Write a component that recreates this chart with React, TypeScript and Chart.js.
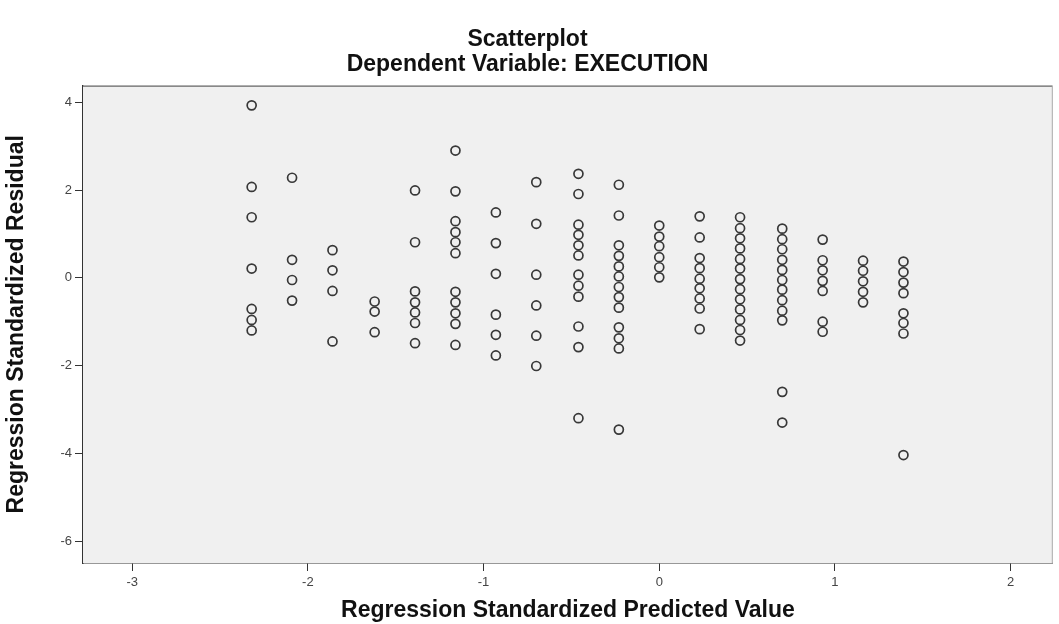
import React, { useEffect, useRef } from "react";
import { Chart, registerables } from "chart.js";

Chart.register(...registerables);

const chartTitle = "Scatterplot";
const chartSubtitle = "Dependent Variable: EXECUTION";
const xAxisTitle = "Regression Standardized Predicted Value";
const yAxisTitle = "Regression Standardized Residual";

const xTickValues = [-3, -2, -1, 0, 1, 2];
const yTickValues = [4, 2, 0, -2, -4, -6];

// Regression standardized predicted value of each column of points
const predicted = [-2.32, -2.09, -1.86, -1.62, -1.39, -1.16, -0.93, -0.7, -0.46, -0.23, 0.0, 0.23, 0.46, 0.7, 0.93, 1.16, 1.39];

// Standardized residuals in each column
const col01 = [3.93, 2.07, 1.38, 0.21, -0.71, -0.96, -1.2];
const col02 = [2.28, 0.41, -0.05, -0.52];
const col03 = [0.63, 0.17, -0.3, -1.45];
const col04 = [-0.54, -0.77, -1.24];
const col05 = [1.99, 0.81, -0.31, -0.56, -0.79, -1.03, -1.49];
const col06 = [2.9, 1.97, 1.29, 1.04, 0.81, 0.56, -0.32, -0.56, -0.81, -1.05, -1.53];
const col07 = [1.49, 0.79, 0.09, -0.84, -1.3, -1.77];
const col08 = [2.18, 1.23, 0.07, -0.63, -1.32, -2.01];
const col09 = [2.37, 1.91, 1.21, 0.98, 0.74, 0.51, 0.07, -0.18, -0.43, -1.11, -1.58, -3.2];
const col10 = [2.12, 1.42, 0.74, 0.5, 0.26, 0.03, -0.21, -0.44, -0.68, -1.13, -1.38, -1.61, -3.46];
const col11 = [1.19, 0.94, 0.72, 0.47, 0.24, 0.01];
const col12 = [1.4, 0.92, 0.45, 0.22, -0.02, -0.24, -0.47, -0.7, -1.17];
const col13 = [1.38, 1.13, 0.9, 0.67, 0.43, 0.21, -0.03, -0.26, -0.49, -0.72, -0.96, -1.19, -1.43];
const col14 = [1.12, 0.88, 0.65, 0.41, 0.18, -0.05, -0.27, -0.51, -0.75, -0.97, -2.6, -3.3];
const col15 = [0.87, 0.4, 0.17, -0.07, -0.3, -1.0, -1.23];
const col16 = [0.39, 0.16, -0.08, -0.32, -0.56];
const col17 = [0.37, 0.13, -0.11, -0.35, -0.81, -1.03, -1.27, -4.04];

const residualColumns = [col01, col02, col03, col04, col05, col06, col07, col08, col09, col10, col11, col12, col13, col14, col15, col16, col17];

const FONT = "'Liberation Sans', Arial, Helvetica, sans-serif";
const PLOT_BG = "#f0f0f0";
const TITLE_FONT = { family: FONT, size: 23, weight: "bold" as const, lineHeight: 1.1 };

const plotFrame = {
  id: "plotFrame",
  beforeDatasetsDraw(chart: any) {
    const { ctx, chartArea } = chart;
    ctx.save();
    ctx.fillStyle = PLOT_BG;
    ctx.fillRect(chartArea.left, chartArea.top, chartArea.right - chartArea.left, chartArea.bottom - chartArea.top);
    ctx.strokeStyle = "#666";
    ctx.lineWidth = 1.2;
    ctx.beginPath();
    ctx.moveTo(chartArea.left, chartArea.top + 0.5);
    ctx.lineTo(chartArea.right - 0.5, chartArea.top + 0.5);
    ctx.stroke();
    ctx.strokeStyle = "#aaa";
    ctx.lineWidth = 1;
    ctx.beginPath();
    ctx.moveTo(chartArea.right - 0.5, chartArea.top);
    ctx.lineTo(chartArea.right - 0.5, chartArea.bottom);
    ctx.stroke();
    ctx.restore();
  },
};

export default function App() {
  const canvasRef = useRef<HTMLCanvasElement | null>(null);

  useEffect(() => {
    document.body.style.margin = "0";
    const canvas = canvasRef.current;
    if (!canvas) return;
    const points: { x: number; y: number }[] = [];
    residualColumns.forEach((col, i) => {
      col.forEach((r) => points.push({ x: predicted[i], y: r }));
    });

    const chart = new Chart(canvas, {
      type: "scatter",
      data: {
        datasets: [
          {
            data: points,
            pointStyle: "circle",
            pointRadius: 4.5,
            pointBorderWidth: 1.7,
            pointBorderColor: "#383838",
            pointBackgroundColor: "rgba(0,0,0,0)",
            pointHoverRadius: 4.5,
          },
        ],
      },
      options: {
        responsive: false,
        animation: false,
        layout: { padding: { top: 0, right: 4, bottom: 0, left: 0 } },
        plugins: {
          legend: { display: false },
          tooltip: { enabled: false },
          title: {
            display: true,
            text: chartTitle,
            color: "#111",
            font: TITLE_FONT,
            padding: { top: 27, bottom: 0 },
          },
          subtitle: {
            display: true,
            text: chartSubtitle,
            color: "#111",
            font: TITLE_FONT,
            padding: { top: 0, bottom: 8 },
          },
        },
        scales: {
          x: {
            type: "linear",
            min: -3.28,
            max: 2.24,
            afterBuildTicks: (scale: any) => {
              scale.ticks = xTickValues.map((v) => ({ value: v }));
            },
            afterFit: (scale: any) => {
              scale.height = 61;
            },
            grid: { display: true, drawOnChartArea: false, drawTicks: true, tickLength: 8, color: "#333", lineWidth: 1 },
            border: { display: true, color: "#333", width: 1.5 },
            ticks: {
              color: "#444",
              font: { family: FONT, size: 13 },
              padding: 4,
              maxRotation: 0,
              autoSkip: false,
              callback: (v: any) => String(v),
            },
            title: {
              display: true,
              text: xAxisTitle,
              color: "#111",
              font: TITLE_FONT,
              padding: { top: 0, bottom: 1 },
            },
          },
          y: {
            type: "linear",
            min: -6.5,
            max: 4.38,
            afterBuildTicks: (scale: any) => {
              scale.ticks = yTickValues.map((v) => ({ value: v }));
            },
            afterFit: (scale: any) => {
              scale.width = 83;
            },
            grid: { display: true, drawOnChartArea: false, drawTicks: true, tickLength: 8, color: "#333", lineWidth: 1 },
            border: { display: true, color: "#333", width: 1.5 },
            ticks: {
              color: "#444",
              font: { family: FONT, size: 13 },
              padding: 3,
              autoSkip: false,
              callback: (v: any) => String(v),
            },
            title: {
              display: true,
              text: yAxisTitle,
              color: "#111",
              font: TITLE_FONT,
              padding: { top: 4, bottom: 0 },
            },
          },
        },
      },
      plugins: [plotFrame],
    });
    return () => chart.destroy();
  }, []);

  return (
    <div style={{ width: 1059, height: 624, background: "#fff" }}>
      <canvas ref={canvasRef} width={1059} height={624} style={{ display: "block" }} />
    </div>
  );
}
